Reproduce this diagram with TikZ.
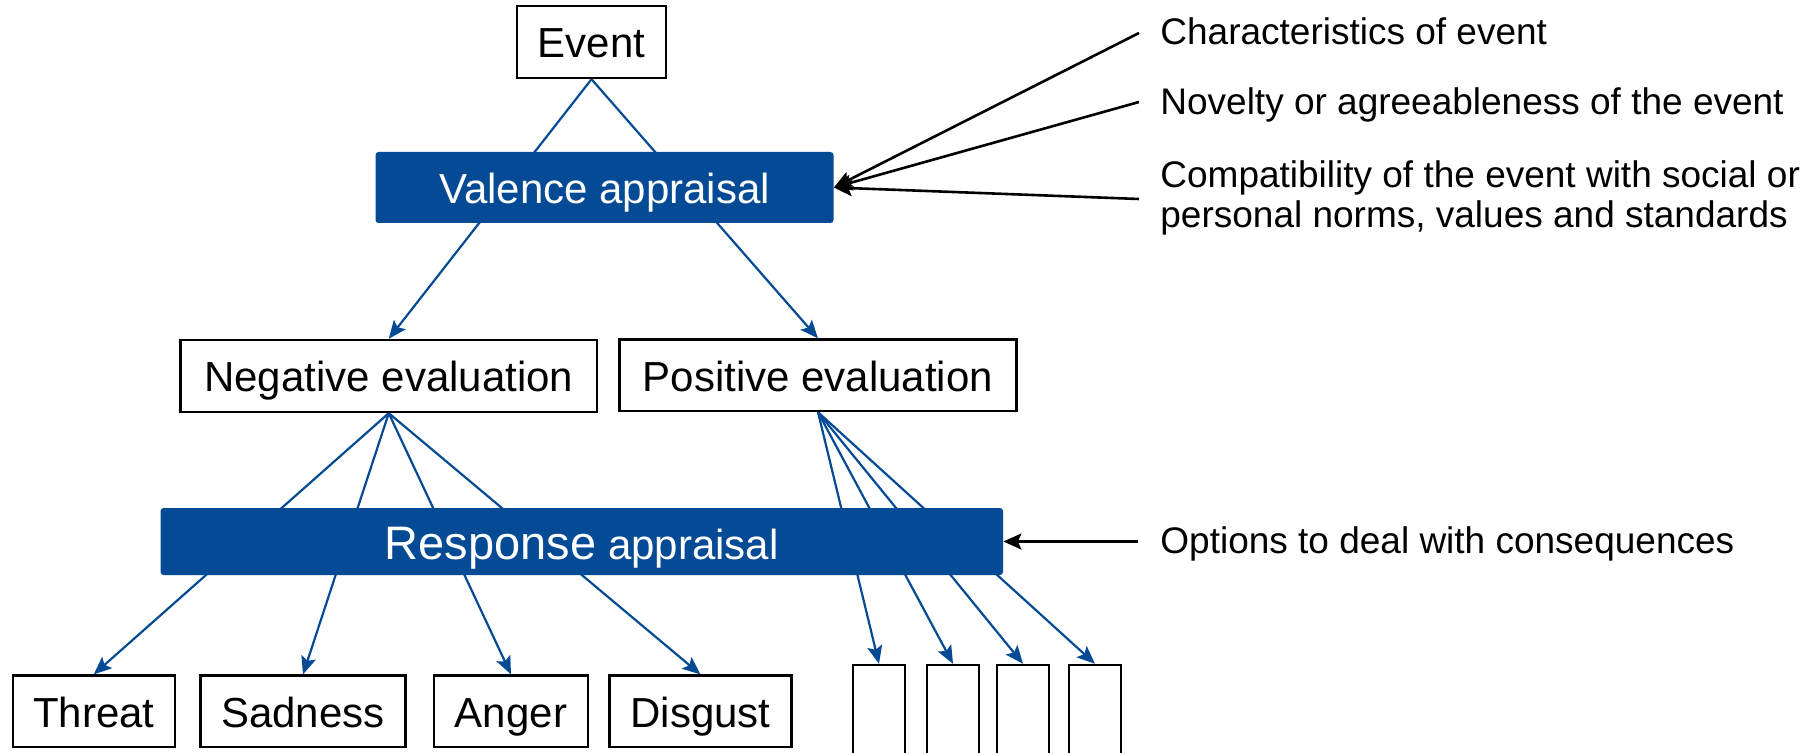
\documentclass[tikz,border=0pt]{standalone}
\usepackage{fontspec}
\setmainfont{Liberation Sans}
\usetikzlibrary{arrows.meta,backgrounds}
\definecolor{vblue}{HTML}{044A94}
\begin{document}
\begin{tikzpicture}[x=0.5pt,y=-0.5pt,
  wbox/.style={draw=black,line width=1.2pt,fill=white,inner sep=0pt,font=\fontsize{21pt}{25pt}\selectfont,text height=16pt,text depth=0pt},
  bbox/.style={fill=vblue,rounded corners=1.5pt,inner sep=0pt,text=white,font=\fontsize{21pt}{25pt}\selectfont,text height=16pt,text depth=0pt},
  ebox/.style={draw=black,line width=1.2pt,fill=white,inner sep=0pt,minimum width=26.25pt,minimum height=50pt},
  note/.style={anchor=base west,inner sep=0pt,font=\fontsize{18.5pt}{20pt}\selectfont,align=left},
  bline/.style={draw=vblue,line width=1.1pt},
  barrow/.style={bline,-{Stealth[length=9pt,width=7.5pt,inset=1.8pt]}},
  karrow/.style={draw=black,line width=1.3pt,-{Stealth[length=9pt,width=8pt,inset=1.8pt]}}]
\useasboundingbox (0,0) rectangle (1820,753);
\clip (0,0) rectangle (1820,753);

% nodes
\node[wbox,minimum width=74.5pt,minimum height=36pt] (event) at (591.5,42) {Event};
\node[bbox,minimum width=229pt,minimum height=35.5pt] (val) at (604.5,187.5) {Valence appraisal};
\node[wbox,minimum width=208.25pt,minimum height=36pt] (neg) at (388.75,376) {Negative evaluation};
\node[wbox,minimum width=198.5pt,minimum height=35.75pt] (pos) at (818,375.3) {Positive evaluation};
\node[bbox,minimum width=421.2pt,minimum height=33.5pt,text height=17.8pt] (resp) at (581.8,541.5) {{\fontsize{23.5pt}{27pt}\selectfont Response} appraisal};
\node[wbox,minimum width=81pt,minimum height=35.65pt] (threat) at (93.7,711.3) {Threat};
\node[wbox,minimum width=102.5pt,minimum height=35.65pt] (sad) at (303,711.3) {Sadness};
\node[wbox,minimum width=77pt,minimum height=35.65pt] (anger) at (511,711.3) {Anger};
\node[wbox,minimum width=90.85pt,minimum height=35.65pt] (disg) at (700.5,711.3) {Disgust};
\node[ebox] (e1) at (879,715) {};
\node[ebox] (e2) at (953,715) {};
\node[ebox] (e3) at (1023,715) {};
\node[ebox] (e4) at (1095,715) {};

% annotations
\node[note] (t1) at (1160,45) {Characteristics of event};
\node[note] (t2) at (1160,115) {Novelty or agreeableness of the event};
\node[note] (t3) at (1160,228) {Compatibility of the event with social or\\personal norms, values and standards};
\node[note] (t4) at (1160,553) {Options to deal with consequences};
\coordinate (c1) at (1139,33);
\coordinate (c2) at (1139,102);
\coordinate (c3) at (1139,199);
\coordinate (c4) at (1138,541.5);

\begin{scope}[on background layer]
\draw[barrow] (event.south) -- (neg.north);
\draw[barrow] (event.south) -- (pos.north);
\draw[barrow] (neg.south) -- (threat.north);
\draw[barrow] (neg.south) -- (sad.north);
\draw[barrow] (neg.south) -- (anger.north);
\draw[barrow] (neg.south) -- (disg.north);
\draw[barrow] (pos.south) -- (e1.north);
\draw[barrow] (pos.south) -- (e2.north);
\draw[barrow] (pos.south) -- (e3.north);
\draw[barrow] (pos.south) -- (e4.north);
\end{scope}

\draw[karrow] (c1) -- (val.east);
\draw[karrow] (c2) -- (val.east);
\draw[karrow] (c3) -- (val.east);
\draw[karrow] (c4) -- (resp.east);
\end{tikzpicture}
\end{document}
